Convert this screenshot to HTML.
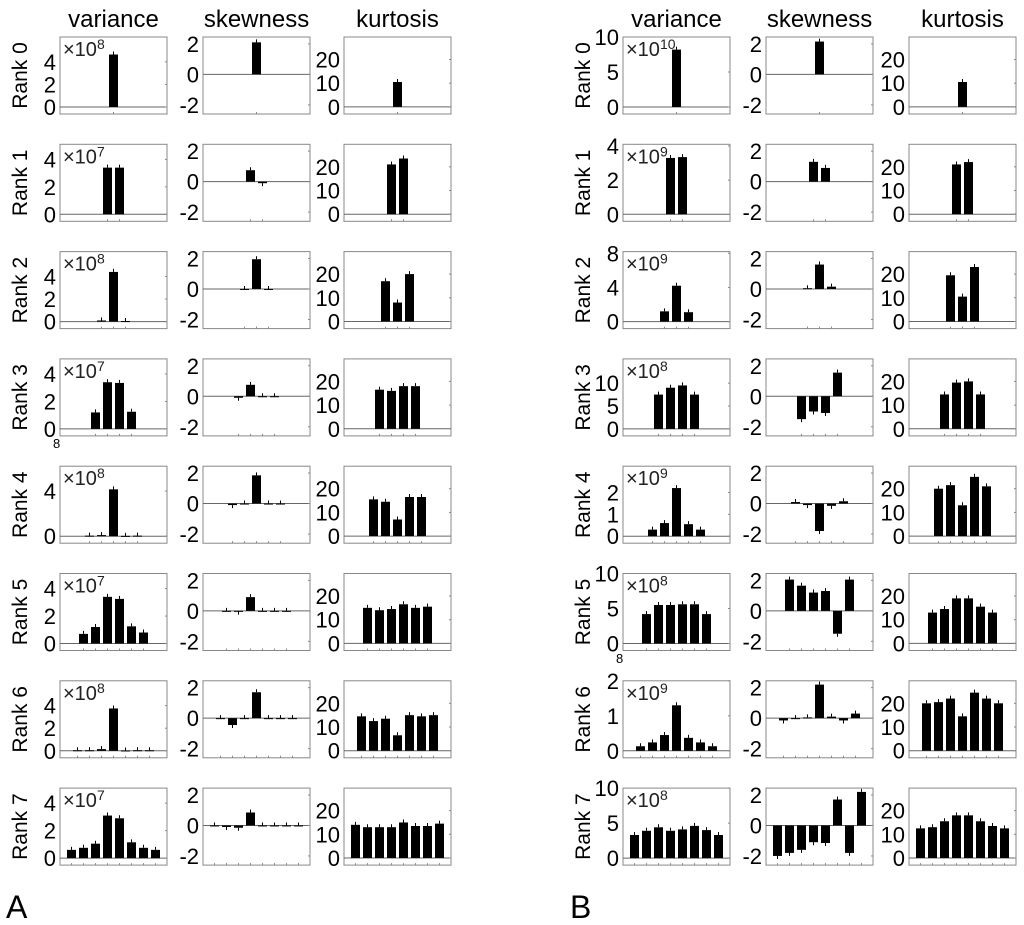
<!DOCTYPE html>
<html><head><meta charset="utf-8"><style>
body{margin:0;background:#fff;}
svg{display:block;font-family:"Liberation Sans",Arial,sans-serif;}
</style></head><body>
<svg id="fig" width="1024" height="925" viewBox="0 0 1024 925"></svg>
<script>
// ---- data (A) ----
const A0_var=[4.65], A0_skew=[2.1], A0_kurt=[10.5];
const A1_var=[3.4,3.4], A1_skew=[0.75,-0.1], A1_kurt=[21,23.5];
const A2_var=[0.1,4.4,0.05], A2_skew=[0,1.95,0], A2_kurt=[17,8,20];
const A3_var=[1.2,3.4,3.35,1.25], A3_skew=[-0.1,0.75,0,0], A3_kurt=[16.5,16,18,18];
const A4_var=[0.05,0.1,4.15,0.03,0.05], A4_skew=[-0.1,0,1.85,0,0], A4_kurt=[15.5,14.5,7,16.5,16.5];
const A5_var=[0.7,1.2,3.4,3.25,1.25,0.8], A5_skew=[0,-0.05,0.9,0,0,0], A5_kurt=[15,14,14.5,16.5,15,15.5];
const A6_var=[0.05,0.05,0.15,3.75,0.03,0.05,0.05], A6_skew=[0,-0.45,0,1.7,0,0,0], A6_kurt=[14.5,12.5,13.5,6.5,15,14.5,15];
const A7_var=[0.6,0.75,1.05,3.1,2.9,1.15,0.75,0.6], A7_skew=[0,-0.1,-0.15,0.85,0,0,0,0], A7_kurt=[14,13,13,13,15,13.5,13.5,14.5];
// ---- data (B) ----
const B0_var=[8.2], B0_skew=[2.15], B0_kurt=[10.5];
const B1_var=[3.3,3.35], B1_skew=[1.3,0.9], B1_kurt=[21,22];
const B2_var=[1.2,4.2,1.1], B2_skew=[0.05,1.6,0.15], B2_kurt=[19.5,10.5,23];
const B3_var=[7.5,9,9.5,7.5], B3_skew=[-1.5,-1.0,-1.1,1.55], B3_kurt=[14.5,19.5,20,14.5];
const B4_var=[0.3,0.6,2.2,0.55,0.3], B4_skew=[0.1,-0.1,-1.8,-0.15,0.15], B4_kurt=[20,21.5,13,25,21];
const B5_var=[4.2,5.5,5.5,5.6,5.6,4.2], B5_skew=[2.05,1.65,1.2,1.3,-1.5,2.05], B5_kurt=[13,14.5,19,19,15.5,13];
const B6_var=[0.13,0.24,0.45,1.3,0.37,0.24,0.13], B6_skew=[-0.15,0,0.05,2.2,0.1,-0.15,0.3], B6_kurt=[20,20.5,22,14.5,24.5,22,20];
const B7_var=[3.3,3.9,4.4,3.9,4.1,4.6,4,3.3], B7_skew=[-2,-1.8,-1.6,-1.1,-1.15,1.7,-1.8,2.2], B7_kurt=[12.5,13,15.5,18,18,15.5,13.5,12.5];
// variance axis settings per rank
const A_varExp=["8","7","8","7","8","7","8","7"];
const B_varExp=["10","9","9","8","9","8","9","8"];
const A_varMax=[6.2,5.1,6.2,5.1,6.2,5.1,6.2,5.1];
const B_varMax=[10,4.1,8.2,15.3,3.2,10,2,10];
const A_varTicks=[[0,2,4],[0,2,4],[0,2,4],[0,2,4],[0,4],[0,2,4],[0,2,4],[0,2,4]];
const B_varTicks=[[0,5,10],[0,2,4],[0,4,8],[0,5,10],[0,1,2],[0,5,10],[0,1,2],[0,5,10]];
const skewTicks=[-2,0,2], kurtTicks=[0,10,20];
const titles=["variance","skewness","kurtosis"];

const NS="http://www.w3.org/2000/svg";
const svg=document.getElementById('fig');
function mk(tag,attrs,parent){const e=document.createElementNS(NS,tag);for(const k in attrs)e.setAttribute(k,attrs[k]);(parent||svg).appendChild(e);return e;}
const PW=107, PH=77, TOP0=37, RSTEP=107.3;
const colX={A:[60,203,344],B:[623,766,909]};
const DATA={A0_var,A0_skew,A0_kurt,A1_var,A1_skew,A1_kurt,A2_var,A2_skew,A2_kurt,A3_var,A3_skew,A3_kurt,A4_var,A4_skew,A4_kurt,A5_var,A5_skew,A5_kurt,A6_var,A6_skew,A6_kurt,A7_var,A7_skew,A7_kurt,
B0_var,B0_skew,B0_kurt,B1_var,B1_skew,B1_kurt,B2_var,B2_skew,B2_kurt,B3_var,B3_skew,B3_kurt,B4_var,B4_skew,B4_kurt,B5_var,B5_skew,B5_kurt,B6_var,B6_skew,B6_kurt,B7_var,B7_skew,B7_kurt};

function panel(x0,y0,vals,ymin,ymax,ticks,exp,name){
  const grp=mk('g',{});
  
  
  const ys=v=>y0+PH-(v-ymin)/(ymax-ymin)*PH;
  const box=mk('rect',{x:x0,y:y0,width:PW,height:PH,fill:'#fff',stroke:'#888','stroke-width':1},grp);
  
  
  const cx=x0+PW/2, sp=12, n=vals.length;
  const y0v=ys(0);
  const zl=mk('line',{x1:x0,x2:x0+PW,y1:y0v,y2:y0v,stroke:'#666','stroke-width':1},grp);
  
  
  vals.forEach((v,i)=>{
    const bx=cx+(i-(n-1)/2)*sp;
    const yv=ys(v);
    const b=mk('rect',{x:bx-4.5,y:Math.min(yv,y0v),width:9,height:Math.max(Math.abs(yv-y0v),1),fill:'#000'},grp);
    
    
    const ey=v>=0?yv-3:yv+3;
    mk('line',{x1:bx,x2:bx,y1:yv,y2:ey,stroke:'#000','stroke-width':1},grp);
    mk('line',{x1:bx,x2:bx,y1:y0+PH,y2:y0+PH-2,stroke:'#888','stroke-width':1},grp);
  });
  ticks.forEach(t=>{
    const ty=ys(t);
    const lb=mk('text',{x:x0-4,y:ty+8,'text-anchor':'end','font-size':22,fill:'#000'},grp);
    lb.textContent=String(t);
    
    
    mk('line',{x1:x0+PW,x2:x0+PW-2,y1:ty,y2:ty,stroke:'#888'},grp);
  });
  if(exp){
    const t=mk('text',{x:x0+3,y:y0+19,'font-size':20,fill:'#222'},grp);
    t.textContent='×10';
    
    
    const s=mk('tspan',{dy:-7,'font-size':14},t);
    s.textContent=exp;
  }
}

['A','B'].forEach(G=>{
  const cols=colX[G];
  titles.forEach((tt,c)=>{
    const t=mk('text',{x:cols[c]+PW/2,y:27,'text-anchor':'middle','font-size':24});
    t.textContent=tt;
    
    
  });
  for(let r=0;r<8;r++){
    const y0=TOP0+r*RSTEP;
    const varV=DATA[G+r+'_var'], skV=DATA[G+r+'_skew'], kuV=DATA[G+r+'_kurt'];
    const vmax=(G==='A'?A_varMax:B_varMax)[r];
    panel(cols[0],y0,varV,-vmax*0.1,vmax,(G==='A'?A_varTicks:B_varTicks)[r],(G==='A'?A_varExp:B_varExp)[r],'variance-panel-'+G+r);
    panel(cols[1],y0,skV,-2.6,2.45,skewTicks,null,'skewness-panel-'+G+r);
    panel(cols[2],y0,kuV,-3,29.5,kurtTicks,null,'kurtosis-panel-'+G+r);
    const lx=G==='A'?27:590, ly=y0+PH/2;
    const rl=mk('text',{x:lx,y:ly,'text-anchor':'middle','font-size':21,transform:`rotate(-90 ${lx} ${ly})`});
    rl.textContent='Rank '+r;
    
    
  }
  const L=mk('text',{x:G==='A'?6:570,y:918,'font-size':32});
  L.textContent=G;
  
  
});
[[53,448],[616,663]].forEach(p=>{
  const t=mk('text',{x:p[0],y:p[1],'font-size':13});
  t.textContent='8';
  
  
});
</script>
</body></html>
